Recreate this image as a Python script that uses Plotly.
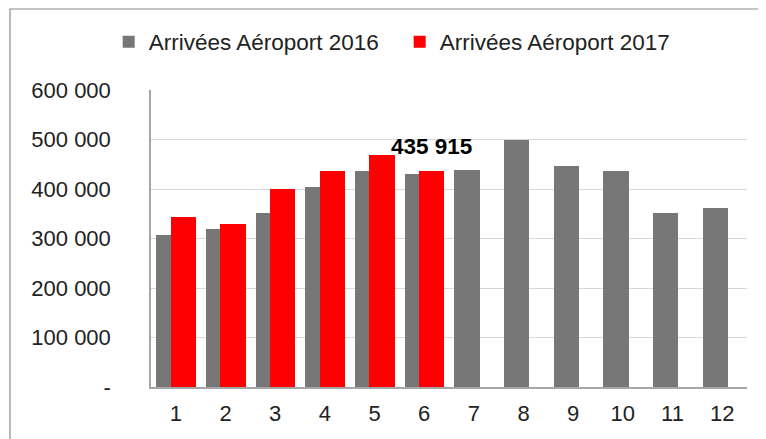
import plotly.graph_objects as go

months = list(range(1, 13))
tick_labels = [str(m) for m in months]
arr_2016 = [308000, 319000, 351000, 405000, 436000, 431000, 439000, 499000, 447000, 436000, 351000, 362000]
arr_2017 = [343000, 329000, 400000, 437000, 468000, 435915]
y_ticks = [0, 100000, 200000, 300000, 400000, 500000, 600000]
y_tick_labels = ["-", "100 000", "200 000", "300 000", "400 000", "500 000", "600 000"]
label_value = 435915
label_text = "435 915"

FONT = "Liberation Sans, Arial, sans-serif"

fig = go.Figure()
fig.add_trace(go.Bar(
    x=months, y=arr_2016, name="Arrivées Aéroport 2016",
    marker=dict(color="#777777", line=dict(width=0)),
    offset=-0.39, width=0.51,
))
fig.add_trace(go.Bar(
    x=months[:len(arr_2017)], y=arr_2017, name="Arrivées Aéroport 2017",
    marker=dict(color="#ff0000", line=dict(width=0)),
    offset=-0.105, width=0.51,
))

fig.add_annotation(
    x=6 + 0.15, y=label_value, text="<b>" + label_text + "</b>",
    showarrow=False, yshift=25, xanchor="center", yanchor="middle",
    font=dict(family=FONT, size=22.5, color="#000000"),
)

# outer frame (cut by canvas on right/bottom)
fig.add_shape(type="rect", xref="paper", yref="paper",
              x0=-0.2366, x1=1.1, y0=-0.4, y1=1.2727,
              line=dict(color="#8c8c8c", width=1.2), layer="below")

fig.update_layout(
    width=766, height=439,
    margin=dict(l=143, r=27, t=82, b=60),
    paper_bgcolor="white", plot_bgcolor="white",
    barmode="overlay",
    bargap=0,
    font=dict(family=FONT, size=22, color="#222222"),
    legend=dict(
        orientation="h", x=-0.071, xanchor="left", y=1.1616, yanchor="middle",
        font=dict(family=FONT, size=22.5, color="#222222"),
        bgcolor="rgba(0,0,0,0)", itemclick=False,
        entrywidth=246, entrywidthmode="pixels",
    ),
    showlegend=True,
)
fig.update_xaxes(
    range=[0.5, 12.5], tickmode="array", tickvals=months, ticktext=tick_labels,
    showgrid=False, showline=True, linecolor="#a6a6a6", linewidth=1.5,
    ticks="", ticklabelstandoff=6, zeroline=False,
    tickfont=dict(family=FONT, size=22, color="#222222"),
)
fig.update_yaxes(
    range=[0, 600000], tickmode="array", tickvals=y_ticks, ticktext=y_tick_labels,
    showgrid=True, gridcolor="#d9d9d9", gridwidth=1.2,
    showline=True, linecolor="#a6a6a6", linewidth=1.5,
    ticks="", ticklabelstandoff=34, zeroline=False,
    tickfont=dict(family=FONT, size=22, color="#222222"),
)

fig.write_html("out.html")
